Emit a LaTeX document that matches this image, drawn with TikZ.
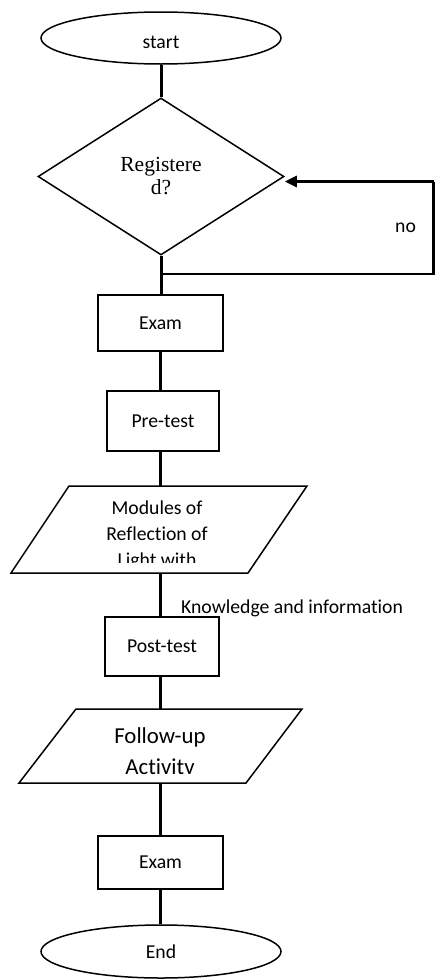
\documentclass[tikz,border=0pt]{standalone}
\usepackage{fontspec}
\setmainfont{Carlito}[Ligatures=NoCommon]
\newfontfamily\regfont{Liberation Serif}
\usetikzlibrary{shapes.geometric,arrows.meta}
\begin{document}
\begin{tikzpicture}[x=1pt,y=-1pt,
  shapeline/.style={draw=black,line width=1.5pt},
  bodyfont/.style={font=\fontsize{19.7pt}{24pt}\selectfont},
  termbox/.style={shapeline,ellipse,minimum width=240pt,minimum height=52pt,inner sep=0pt,bodyfont},
  procbox/.style={shapeline,rectangle,inner sep=0pt,bodyfont},
  decbox/.style={shapeline,diamond,minimum width=246pt,minimum height=157pt,inner sep=0pt,align=center,font=\regfont\fontsize{21.5pt}{23pt}\selectfont},
  conn/.style={line width=3pt},
  plaintext/.style={inner sep=0pt,bodyfont}
]
\useasboundingbox (0,0) rectangle (435,980);

% nodes
\node[termbox,text height=20pt,text depth=0pt] (start) at (161,38) {start};
\node[decbox] (dia) at (161,176.5) {Registere\\d?};
\node[procbox,minimum width=125pt,minimum height=56pt] (exam1) at (160.5,323) {Exam};
\node[procbox,minimum width=112pt,minimum height=60pt] (pre) at (163,421) {Pre-test};

\draw[shapeline] (69,486) -- (307,486) -- (248,573) -- (11,573) -- cycle;
\coordinate (modT) at (160.5,486);
\coordinate (modB) at (160.5,573);
\begin{scope}
  \clip (0,488) rectangle (435,562);
  \node[plaintext,align=center,font=\fontsize{19.7pt}{26pt}\selectfont] (mod) at (157,535) {Modules of\\Reflection of\\Light with};
\end{scope}

\node[procbox,minimum width=114pt,minimum height=59pt] (post) at (162,646.5) {Post-test};

\draw[shapeline] (76,709) -- (302,709) -- (246,783) -- (19,783) -- cycle;
\coordinate (fT) at (160.5,709);
\coordinate (fB) at (160.5,783);
\node[plaintext,align=center,font=\fontsize{22.8pt}{31pt}\selectfont] (follow) at (160,751) {Follow-up\\Activitv};

\node[procbox,minimum width=125pt,minimum height=53pt] (exam2) at (160.5,862.5) {Exam};
\node[termbox,minimum height=53pt] (end) at (161,951.5) {End};

\node[plaintext,anchor=base west] (know) at (181,613) {Knowledge and information};
\node[plaintext,anchor=base west] (no) at (395,232) {no};

% connectors
\draw[conn] (start.south) -- (dia.north);
\draw[conn] (dia.south) -- (dia.south |- exam1.north);
\coordinate (lr1) at (433.5,181.5);
\coordinate (lr2) at (433.5,274);
\coordinate (j) at (161,274);
\draw[conn,-{Triangle[length=12pt,width=11pt]}] (lr1) -- (dia.east |- lr1);
\draw[line width=2.6pt] (lr1) -- (lr2) -- (j);
\draw[conn] (exam1.south) -- (exam1.south |- pre.north);
\draw[conn] (pre.south -| modT) -- (modT);
\draw[conn] (modB) -- (modB |- post.north);
\draw[conn] (post.south -| fT) -- (fT);
\draw[conn] (fB) -- (fB |- exam2.north);
\draw[conn] (exam2.south) -- (exam2.south |- end.north);
\end{tikzpicture}
\end{document}
